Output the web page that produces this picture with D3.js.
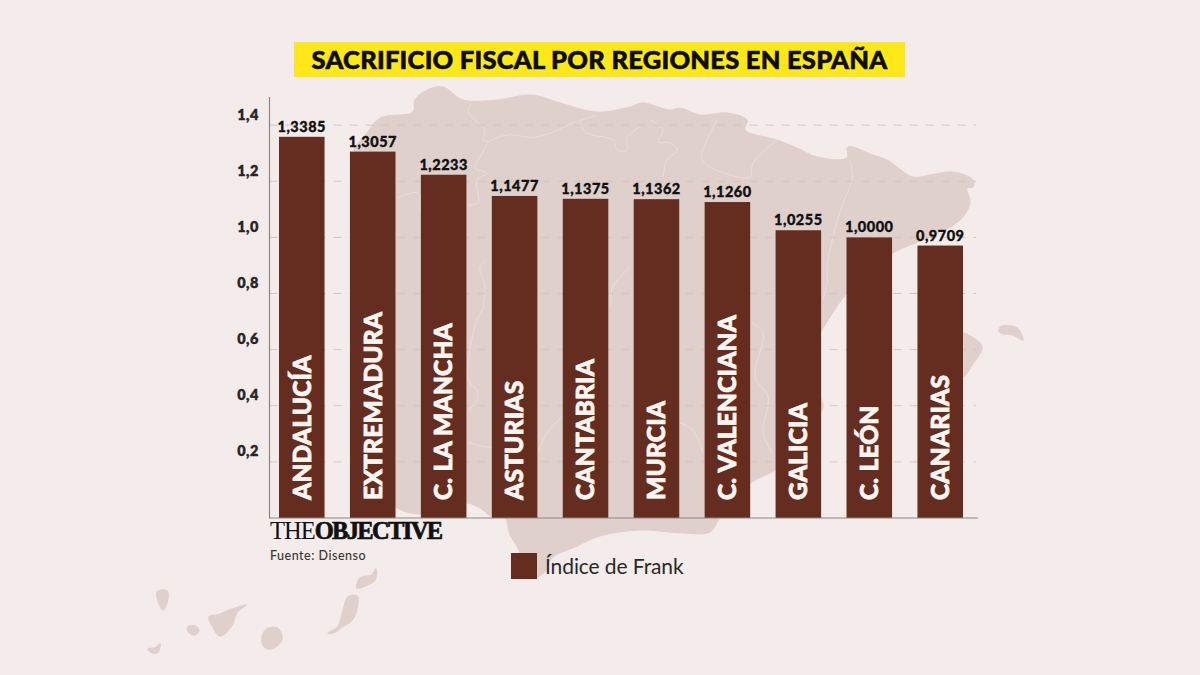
<!DOCTYPE html>
<html><head><meta charset="utf-8">
<script src="https://cdnjs.cloudflare.com/ajax/libs/d3/7.8.5/d3.min.js"></script>
<style>html,body{margin:0;padding:0;background:#f4ecea}svg{display:block}text{font-family:Lato,sans-serif}</style>
</head><body><svg id="c" width="1200" height="675"></svg>
<script>
const regions=["ANDALUCÍA","EXTREMADURA","C. LA MANCHA","ASTURIAS","CANTABRIA","MURCIA","C. VALENCIANA","GALICIA","C. LEÓN","CANARIAS"];
const valueLabels=["1,3385","1,3057","1,2233","1,1477","1,1375","1,1362","1,1260","1,0255","1,0000","0,9709"];
// Bar heights; the first bar is drawn taller than its printed label.
const values=[1.3585,1.3057,1.2233,1.1477,1.1375,1.1362,1.1260,1.0255,1.0000,0.9709];
const tickValues=[0.2,0.4,0.6,0.8,1.0,1.2,1.4];
const titleText="SACRIFICIO FISCAL POR REGIONES EN ESPAÑA";
const legendText="Índice de Frank";
const sourceText="Fuente: Disenso";

// Decorative backdrop: outline of Spain (pixel tracing)
const mainland=[[352,155],[367,133],[380,118],[413,112],[415,100],[427,90],[443,87],[463,100],[497,100],[532,95],[560,103],[597,112],[630,107],[642,103],[670,110],[680,108],[700,115],[727,113],[747,120],[745,130],[777,140],[797,148],[817,157],[847,158],[848,147],[873,155],[887,160],[913,177],[930,175],[953,172],[973,180],[973,187],[967,188],[970,203],[960,220],[930,237],[893,253],[860,280],[847,293],[830,317],[815,345],[812,380],[823,407],[810,425],[790,450],[775,470],[752,482],[735,505],[720,518],[710,532],[683,533],[640,530],[600,536],[575,547],[552,558],[545,572],[530,578],[518,548],[510,535],[505,518],[492,517],[480,508],[467,503],[444,508],[420,514],[397,508],[380,490],[365,300]];
const islands=[
[[157,592],[167,591],[168,598],[163,610],[158,600]],
[[209,617],[218,615],[230,610],[246,605],[237,612],[232,625],[220,636],[213,627]],
[[188,627],[195,626],[199,631],[193,635],[188,631]],
[[262,638],[267,629],[277,628],[282,638],[278,645],[270,649],[263,645]],
[[148,649],[155,648],[160,644],[158,652],[153,653]],
[[328,633],[338,627],[342,615],[348,597],[357,596],[357,608],[352,620],[342,627],[333,633]],
[[357,588],[360,578],[372,575],[376,569],[375,580],[367,585]],
[[999,330],[1003,326],[1017,328],[1023,340],[1013,335],[1001,333]],
[[950,335],[963,333],[982,347],[973,363],[963,377],[950,380]]
];
const borders=[
[[473,103],[468,110],[477,122],[485,130],[483,140],[487,142],[480,157],[475,168],[487,173],[477,180],[478,203],[467,205]],
[[487,142],[507,135],[537,137],[573,123],[597,115]],
[[580,123],[587,133],[613,140],[617,150],[627,150],[627,138],[640,127]],
[[398,198],[418,193],[420,213]],
[[650,120],[663,130],[658,142],[670,143],[677,150],[667,160],[663,177]],
[[717,120],[707,140],[702,160],[730,175],[750,177],[753,163],[777,140]],
[[850,160],[852,180],[843,203],[833,237],[827,267],[827,283],[823,300]],
[[485,307],[477,320],[468,380],[477,390],[477,400],[468,410]],
[[468,442],[487,447],[537,443]],
[[562,417],[547,433],[538,453]],
[[487,260],[480,267],[485,287],[483,307]],
[[630,267],[613,287],[610,307]],
[[752,323],[763,333],[755,377],[768,397],[763,433],[773,453]],
[[680,423],[693,430],[703,453]]
];

const svg=d3.select("#c");
const x=d3.scaleBand().domain(regions).range([279,963]).paddingInner(0.358).paddingOuter(0);
const y=d3.scaleLinear().domain([0,1]).range([518,237.4]);
const yTop=97, axisX=269.5, axisEnd=978;
const land="#dfd0cc", bar="#642d20";

svg.append("rect").attr("width",1200).attr("height",675).attr("fill","#f4ecea");
const closed=d3.line().curve(d3.curveCatmullRomClosed.alpha(0.5));
const open=d3.line().curve(d3.curveCatmullRom.alpha(0.5));
const map=svg.append("g");
map.append("path").attr("d",closed(mainland)).attr("fill",land).attr("stroke",land).attr("stroke-width",1).attr("stroke-linejoin","round");
map.selectAll("path.i").data(islands).join("path").attr("class","i").attr("d",closed).attr("fill",land).attr("stroke",land).attr("stroke-width",1.5).attr("stroke-linejoin","round");
map.selectAll("path.b").data(borders).join("path").attr("class","b").attr("d",open).attr("fill","none").attr("stroke","#eadfdc").attr("stroke-width",0.9);

svg.append("g").selectAll("line").data(tickValues).join("line")
 .attr("x1",axisX).attr("x2",axisEnd-2).attr("y1",d=>y(d)).attr("y2",d=>y(d))
 .attr("stroke","#d3c5c1").attr("stroke-width",1).attr("stroke-dasharray","8 8");

svg.append("g").selectAll("rect").data(regions).join("rect")
 .attr("x",d=>x(d)).attr("width",x.bandwidth())
 .attr("y",(d,i)=>y(values[i])).attr("height",(d,i)=>y(0)-y(values[i])).attr("fill",bar);

// Axes
const axis=d3.axisLeft(y).tickValues(tickValues).tickSize(0).tickPadding(0).tickFormat(d=>d3.format(".1f")(d).replace(".",","));
const ax=svg.append("g").attr("transform",`translate(${axisX},0)`).call(axis);
ax.select(".domain").remove();
ax.selectAll("text").attr("x",-10.5).attr("dy",0).attr("y",-6)
 .style("font-family","Lato").style("font-size","14.5px").style("font-weight",800).attr("fill","#2a2523").attr("stroke","#2a2523").attr("stroke-width",0.3).attr("letter-spacing",0.5);
svg.append("line").attr("x1",axisX).attr("x2",axisX).attr("y1",yTop).attr("y2",518.5).attr("stroke","#8b8582").attr("stroke-width",1.2);
svg.append("line").attr("x1",axisX).attr("x2",axisEnd).attr("y1",518).attr("y2",518).attr("stroke","#8b8582").attr("stroke-width",1.2);

// Value labels
svg.append("g").selectAll("text").data(regions).join("text")
 .attr("x",d=>x(d)+x.bandwidth()/2).attr("y",(d,i)=>y(values[i])-5).attr("text-anchor","middle")
 .attr("font-size",14.5).attr("font-weight",900).attr("letter-spacing",0.5).attr("fill","#111").attr("stroke","#111").attr("stroke-width",0.35)
 .text((d,i)=>valueLabels[i]);

// Rotated region labels
svg.append("g").selectAll("text").data(regions).join("text")
 .attr("transform",d=>`translate(${x(d)+x.bandwidth()/2+8.8},500) rotate(-90)`)
 .attr("font-size",24.5).attr("font-weight",900).attr("letter-spacing",0.2).attr("stroke","#fbf6f2").attr("stroke-width",0.8).attr("fill","#fbf6f2").text(d=>d);

// Title
svg.append("rect").attr("x",294).attr("y",42).attr("width",611).attr("height",35).attr("fill","#ffe81a");
svg.append("text").attr("x",599.5).attr("y",68.5).attr("text-anchor","middle")
 .attr("font-size",25.5).attr("font-weight",900).attr("letter-spacing",0.25).attr("stroke","#0c0c0c").attr("stroke-width",0.6).attr("fill","#0c0c0c").text(titleText);

// Logo
const logo=svg.append("text").attr("x",270).attr("y",539).style("font-family","'Liberation Serif'").attr("font-size",24.5).attr("fill","#111");
logo.append("tspan").attr("font-weight",400).attr("letter-spacing",-1).text("THE");
logo.append("tspan").attr("font-weight",700).attr("stroke","#111").attr("stroke-width",0.7).attr("letter-spacing",-1.65).text("OBJECTIVE");
svg.append("text").attr("x",270).attr("y",559.5).attr("font-size",12.5).attr("font-weight",500).attr("letter-spacing",0.5).attr("fill","#3a3533").text(sourceText);

// Legend
svg.append("rect").attr("x",511).attr("y",553).attr("width",26).attr("height",26).attr("fill",bar);
svg.append("text").attr("x",545).attr("y",573.5).attr("font-size",21).attr("font-weight",400).attr("letter-spacing",-0.1).attr("fill","#2c2725").text(legendText);
</script></body></html>
